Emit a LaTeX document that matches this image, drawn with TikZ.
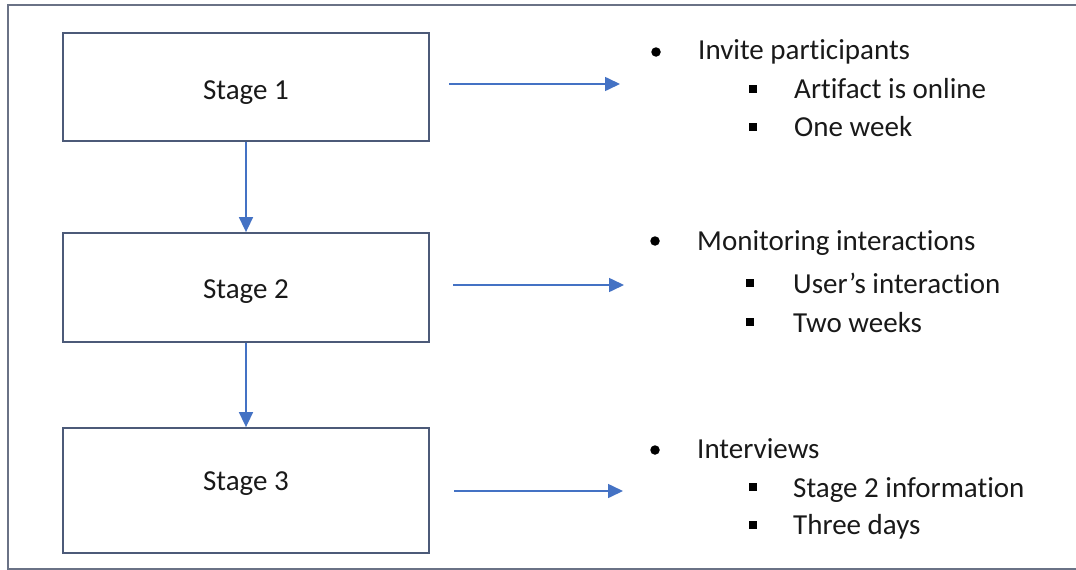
\documentclass[tikz,border=0pt]{standalone}
\usepackage{fontspec}
\setmainfont{Carlito}[Ligatures=NoCommon]
\usetikzlibrary{arrows.meta}
\definecolor{framecol}{HTML}{6A7286}
\definecolor{boxcol}{HTML}{4C5A78}
\definecolor{arrowcol}{HTML}{4472C4}
\tikzset{
  stagebox/.style={draw=boxcol, line width=1.8pt, minimum width=366pt, inner sep=0pt},
  stagetext/.style={anchor=base, inner sep=0pt, font=\fontsize{29}{35}\selectfont, text=black!90},
  itemtext/.style={anchor=base west, inner sep=0pt, font=\fontsize{29}{35}\selectfont, text=black!90},
  flow/.style={draw=arrowcol, line width=1.6pt, -{Triangle[length=15pt,width=14pt]}},
  dotbullet/.style={circle, fill=black, inner sep=0pt, minimum size=9.5pt},
  sqbullet/.style={rectangle, fill=black, inner sep=0pt, minimum size=7.5pt},
}
\begin{document}
\begin{tikzpicture}[x=1pt, y=-1pt]
\useasboundingbox (0,0) rectangle (1076,570);
% outer frame (right side outside picture)
\draw[framecol, line width=2pt] (1080,4.5) -- (8,4.5) -- (8,568.5) -- (1080,568.5);

% stage boxes
\node[stagebox, minimum height=108pt] (s1) at (246,87) {};
\node[stagebox, minimum height=109pt] (s2) at (246,287.5) {};
\node[stagebox, minimum height=125pt] (s3) at (246,490.5) {};
\node[stagetext] (t1) at (246,99) {Stage 1};
\node[stagetext] (t2) at (246,298) {Stage 2};
\node[stagetext] (t3) at (246,490) {Stage 3};

% vertical arrows
\draw[flow] (s1.south) -- (s2.north);
\draw[flow] (s2.south) -- (s3.north);

% horizontal arrows
\coordinate (a1s) at (449,84);  \coordinate (a1e) at (620,84);
\coordinate (a2s) at (453,285); \coordinate (a2e) at (624,285);
\coordinate (a3s) at (454,491); \coordinate (a3e) at (623,491);
\draw[flow] (a1s) -- (a1e);
\draw[flow] (a2s) -- (a2e);
\draw[flow] (a3s) -- (a3e);

% list 1
\node[dotbullet] (d1) at (656,52) {};
\node[itemtext] (l1) at (698,59) {Invite participants};
\node[sqbullet] (q11) at (753,89) {};
\node[itemtext] (l11) at (794,98) {Artifact is online};
\node[sqbullet] (q12) at (753,127) {};
\node[itemtext] (l12) at (794,136) {One week};

% list 2
\node[dotbullet] (d2) at (655,241) {};
\node[itemtext] (l2) at (697,250) {Monitoring interactions};
\node[sqbullet] (q21) at (750,283) {};
\node[itemtext] (l21) at (793,293) {User’s interaction};
\node[sqbullet] (q22) at (750,322) {};
\node[itemtext] (l22) at (793,332) {Two weeks};

% list 3
\node[dotbullet] (d3) at (655,450) {};
\node[itemtext] (l3) at (697,458) {Interviews};
\node[sqbullet] (q31) at (753,487) {};
\node[itemtext] (l31) at (793,497) {Stage 2 information};
\node[sqbullet] (q32) at (753,525) {};
\node[itemtext] (l32) at (793,534) {Three days};
\end{tikzpicture}
\end{document}
